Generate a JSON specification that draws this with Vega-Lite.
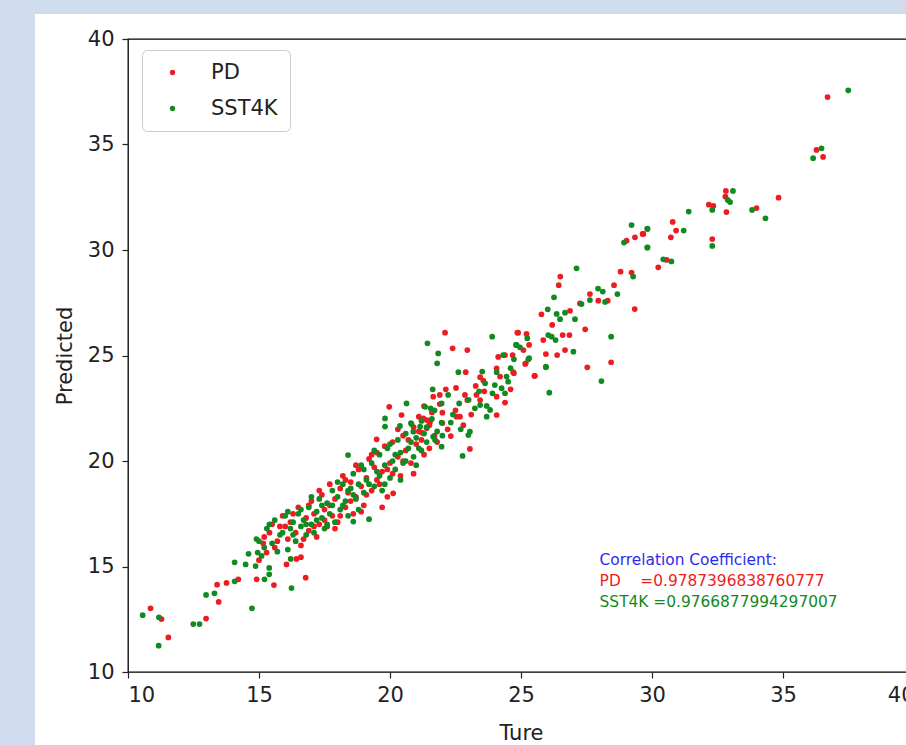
{
  "$schema": "https://vega.github.io/schema/vega-lite/v6.json",
  "width": 786,
  "height": 633,
  "autosize": {"type": "none"},
  "padding": {"left": 128, "top": 39, "right": 0, "bottom": 73},
  "background": "white",
  "config": {
    "view": {"stroke": "black", "strokeWidth": 1.3},
    "font": "DejaVu Sans",
    "axis": {
      "grid": false, "domain": false, "tickColor": "#222", "tickSize": 6, "tickWidth": 1.2,
      "labelFont": "DejaVu Sans", "labelFontSize": 21, "labelColor": "#222",
      "titleFont": "DejaVu Sans", "titleFontSize": 21, "titleFontWeight": "normal", "titleColor": "#222",
      "zindex": 1
    },
    "legend": {
      "orient": "none", "legendX": 14, "legendY": 11, "padding": 12,
      "strokeColor": "#cccccc", "fillColor": "white", "cornerRadius": 5,
      "labelFont": "DejaVu Sans", "labelFontSize": 21, "labelColor": "#222",
      "symbolSize": 28, "symbolType": "circle", "symbolStrokeWidth": 0,
      "rowPadding": 14, "labelOffset": 28, "symbolOffset": 8
    }
  },
  "datasets": {
    "pts": [
      {"s":"PD","t":10.86,"p":13.02},{"s":"PD","t":11.28,"p":12.51},{"s":"PD","t":11.54,"p":11.64},{"s":"PD","t":12.98,"p":12.53},{"s":"PD","t":13.46,"p":13.32},{"s":"PD","t":13.40,"p":14.14},{"s":"PD","t":13.76,"p":14.22},{"s":"PD","t":14.21,"p":14.39},{"s":"PD","t":14.91,"p":14.39},{"s":"PD","t":15.57,"p":14.12},{"s":"PD","t":16.78,"p":14.47},{"s":"PD","t":16.05,"p":15.10},{"s":"PD","t":16.43,"p":15.36},{"s":"PD","t":16.60,"p":15.44},{"s":"PD","t":15.16,"p":16.10},{"s":"PD","t":15.29,"p":15.66},
      {"s":"PD","t":15.4,"p":16.6},{"s":"PD","t":15.6,"p":15.9},{"s":"PD","t":15.8,"p":16.9},{"s":"PD","t":15.9,"p":17.4},{"s":"PD","t":16.1,"p":16.3},{"s":"PD","t":16.2,"p":17.1},{"s":"PD","t":16.4,"p":16.6},{"s":"PD","t":16.5,"p":17.8},{"s":"PD","t":16.6,"p":16.0},{"s":"PD","t":16.8,"p":17.3},{"s":"PD","t":16.9,"p":16.7},{"s":"PD","t":17.0,"p":18.1},{"s":"PD","t":17.1,"p":17.5},{"s":"PD","t":17.2,"p":16.4},{"s":"PD","t":17.3,"p":17.0},{"s":"PD","t":17.4,"p":18.4},{"s":"PD","t":17.5,"p":17.7},{"s":"PD","t":17.6,"p":16.9},{"s":"PD","t":17.7,"p":18.9},{"s":"PD","t":17.8,"p":17.4},{"s":"PD","t":17.9,"p":18.2},{"s":"PD","t":18.0,"p":17.1},{"s":"PD","t":18.1,"p":18.7},{"s":"PD","t":18.2,"p":19.3},{"s":"PD","t":18.3,"p":17.8},{"s":"PD","t":18.4,"p":18.5},{"s":"PD","t":18.5,"p":19.0},{"s":"PD","t":18.6,"p":17.5},{"s":"PD","t":18.7,"p":18.3},{"s":"PD","t":18.8,"p":19.6},{"s":"PD","t":18.9,"p":18.8},{"s":"PD","t":19.0,"p":17.9},{"s":"PD","t":19.1,"p":19.2},{"s":"PD","t":19.2,"p":20.1},{"s":"PD","t":19.3,"p":18.6},{"s":"PD","t":19.4,"p":19.7},{"s":"PD","t":19.5,"p":20.4},{"s":"PD","t":19.6,"p":18.9},{"s":"PD","t":19.7,"p":19.5},{"s":"PD","t":19.8,"p":20.7},{"s":"PD","t":19.9,"p":18.3},{"s":"PD","t":20.0,"p":19.9},{"s":"PD","t":20.1,"p":20.9},{"s":"PD","t":20.12,"p":18.47},{"s":"PD","t":20.3,"p":20.2},{"s":"PD","t":20.4,"p":19.3},{"s":"PD","t":20.5,"p":21.2},{"s":"PD","t":20.6,"p":20.5},{"s":"PD","t":20.8,"p":19.9},{"s":"PD","t":20.9,"p":21.6},{"s":"PD","t":21.0,"p":20.8},{"s":"PD","t":21.1,"p":22.1},{"s":"PD","t":21.2,"p":21.0},{"s":"PD","t":21.3,"p":20.3},{"s":"PD","t":21.5,"p":21.7},{"s":"PD","t":21.6,"p":22.3},{"s":"PD","t":21.8,"p":20.9},{"s":"PD","t":22.0,"p":21.8},
      {"s":"PD","t":15.0,"p":15.3},{"s":"PD","t":15.2,"p":16.4},{"s":"PD","t":15.5,"p":17.0},{"s":"PD","t":15.7,"p":16.2},{"s":"PD","t":16.0,"p":16.9},{"s":"PD","t":16.3,"p":17.5},{"s":"PD","t":16.7,"p":16.3},{"s":"PD","t":16.9,"p":17.9},{"s":"PD","t":17.1,"p":16.9},{"s":"PD","t":17.3,"p":18.6},{"s":"PD","t":17.5,"p":17.2},{"s":"PD","t":17.7,"p":17.9},{"s":"PD","t":17.9,"p":16.8},{"s":"PD","t":18.1,"p":17.4},{"s":"PD","t":18.3,"p":19.1},{"s":"PD","t":18.5,"p":18.1},{"s":"PD","t":18.7,"p":19.8},{"s":"PD","t":18.9,"p":17.6},{"s":"PD","t":19.1,"p":18.4},{"s":"PD","t":19.3,"p":20.3},{"s":"PD","t":19.5,"p":19.1},{"s":"PD","t":19.7,"p":17.8},{"s":"PD","t":19.9,"p":19.6},{"s":"PD","t":20.1,"p":19.4},{"s":"PD","t":20.3,"p":21.5},{"s":"PD","t":20.5,"p":20.0},{"s":"PD","t":20.7,"p":21.0},{"s":"PD","t":20.9,"p":19.4},{"s":"PD","t":21.1,"p":21.4},{"s":"PD","t":21.3,"p":22.6},{"s":"PD","t":21.5,"p":20.6},{"s":"PD","t":21.7,"p":21.2},{"s":"PD","t":21.9,"p":22.7},{"s":"PD","t":22.2,"p":21.5},{"s":"PD","t":22.5,"p":22.4},{"s":"PD","t":22.8,"p":21.7},{"s":"PD","t":23.1,"p":22.2},{"s":"PD","t":23.6,"p":23.3},{"s":"PD","t":24.2,"p":24.0},{"s":"PD","t":24.6,"p":23.4},
      {"s":"PD","t":22.10,"p":26.08},{"s":"PD","t":22.39,"p":25.34},{"s":"PD","t":22.95,"p":25.26},{"s":"PD","t":24.86,"p":26.08},{"s":"PD","t":24.13,"p":24.93},{"s":"PD","t":24.39,"p":25.02},{"s":"PD","t":25.18,"p":24.63},{"s":"PD","t":25.51,"p":24.03},{"s":"PD","t":22.89,"p":24.21},{"s":"PD","t":23.44,"p":23.97},{"s":"PD","t":24.07,"p":24.39},{"s":"PD","t":24.70,"p":24.21},{"s":"PD","t":23.27,"p":23.56},{"s":"PD","t":23.56,"p":23.81},{"s":"PD","t":21.65,"p":23.05},{"s":"PD","t":21.90,"p":23.13},{"s":"PD","t":22.13,"p":23.40},{"s":"PD","t":22.52,"p":23.46},{"s":"PD","t":22.86,"p":23.13},{"s":"PD","t":22.95,"p":22.89},{"s":"PD","t":23.30,"p":23.13},{"s":"PD","t":23.44,"p":22.89},{"s":"PD","t":24.07,"p":23.05},{"s":"PD","t":24.39,"p":22.77},{"s":"PD","t":24.07,"p":22.18},{"s":"PD","t":19.97,"p":22.57},{"s":"PD","t":20.44,"p":22.18},{"s":"PD","t":21.27,"p":22.02},{"s":"PD","t":21.40,"p":21.94},{"s":"PD","t":21.53,"p":21.86},{"s":"PD","t":22.0,"p":22.29},{"s":"PD","t":22.54,"p":22.10},{"s":"PD","t":22.67,"p":22.10},{"s":"PD","t":22.32,"p":21.18},{"s":"PD","t":23.05,"p":20.57},{"s":"PD","t":21.40,"p":21.55},{"s":"PD","t":21.21,"p":21.35},{"s":"PD","t":19.49,"p":21.03},
      {"s":"PD","t":29.35,"p":30.60},{"s":"PD","t":29.03,"p":30.44},{"s":"PD","t":29.67,"p":30.76},{"s":"PD","t":28.80,"p":28.97},{"s":"PD","t":29.22,"p":28.93},{"s":"PD","t":29.34,"p":27.20},{"s":"PD","t":26.50,"p":28.74},{"s":"PD","t":26.44,"p":28.33},{"s":"PD","t":28.55,"p":28.33},{"s":"PD","t":27.63,"p":27.91},{"s":"PD","t":27.95,"p":27.60},{"s":"PD","t":28.31,"p":27.60},{"s":"PD","t":27.25,"p":27.47},{"s":"PD","t":26.87,"p":27.12},{"s":"PD","t":25.78,"p":26.95},{"s":"PD","t":26.19,"p":26.45},{"s":"PD","t":27.45,"p":26.24},{"s":"PD","t":26.85,"p":25.97},{"s":"PD","t":25.85,"p":25.73},{"s":"PD","t":26.59,"p":25.97},{"s":"PD","t":26.68,"p":25.26},{"s":"PD","t":26.38,"p":25.02},{"s":"PD","t":25.95,"p":25.07},{"s":"PD","t":27.53,"p":24.44},{"s":"PD","t":28.44,"p":24.68},{"s":"PD","t":25.53,"p":24.04},{"s":"PD","t":24.89,"p":26.08},{"s":"PD","t":25.21,"p":26.02},{"s":"PD","t":25.31,"p":25.50},{"s":"PD","t":25.09,"p":25.26},{"s":"PD","t":25.16,"p":24.60},{"s":"PD","t":24.68,"p":25.02},{"s":"PD","t":24.73,"p":24.16},
      {"s":"PD","t":36.70,"p":37.25},{"s":"PD","t":36.28,"p":34.74},{"s":"PD","t":36.53,"p":34.41},{"s":"PD","t":34.83,"p":32.48},{"s":"PD","t":33.99,"p":31.99},{"s":"PD","t":32.82,"p":32.80},{"s":"PD","t":32.80,"p":32.53},{"s":"PD","t":32.84,"p":31.80},{"s":"PD","t":32.17,"p":32.15},{"s":"PD","t":32.34,"p":32.09},{"s":"PD","t":32.30,"p":30.52},{"s":"PD","t":30.79,"p":31.33},{"s":"PD","t":30.92,"p":30.92},{"s":"PD","t":30.72,"p":30.60},{"s":"PD","t":29.64,"p":30.76},{"s":"PD","t":30.56,"p":29.53},{"s":"PD","t":30.24,"p":29.18},
      {"s":"SST4K","t":10.56,"p":12.69},{"s":"SST4K","t":11.18,"p":12.59},{"s":"SST4K","t":11.17,"p":11.25},{"s":"SST4K","t":12.49,"p":12.27},{"s":"SST4K","t":12.73,"p":12.27},{"s":"SST4K","t":12.98,"p":13.65},{"s":"SST4K","t":13.30,"p":13.73},{"s":"SST4K","t":14.07,"p":14.30},{"s":"SST4K","t":14.07,"p":15.20},{"s":"SST4K","t":14.49,"p":15.10},{"s":"SST4K","t":14.73,"p":13.02},{"s":"SST4K","t":14.87,"p":15.02},{"s":"SST4K","t":15.21,"p":14.39},{"s":"SST4K","t":15.39,"p":14.93},{"s":"SST4K","t":15.39,"p":14.63},{"s":"SST4K","t":16.24,"p":13.98},{"s":"SST4K","t":16.21,"p":15.36},{"s":"SST4K","t":14.95,"p":15.66},
      {"s":"SST4K","t":15.0,"p":16.2},{"s":"SST4K","t":15.1,"p":15.5},{"s":"SST4K","t":15.3,"p":16.8},{"s":"SST4K","t":15.5,"p":16.1},{"s":"SST4K","t":15.6,"p":17.2},{"s":"SST4K","t":15.7,"p":15.7},{"s":"SST4K","t":15.8,"p":16.5},{"s":"SST4K","t":16.0,"p":17.4},{"s":"SST4K","t":16.1,"p":15.8},{"s":"SST4K","t":16.2,"p":16.8},{"s":"SST4K","t":16.3,"p":17.1},{"s":"SST4K","t":16.4,"p":16.2},{"s":"SST4K","t":16.5,"p":17.5},{"s":"SST4K","t":16.6,"p":16.9},{"s":"SST4K","t":16.7,"p":17.2},{"s":"SST4K","t":16.8,"p":16.5},{"s":"SST4K","t":16.9,"p":17.8},{"s":"SST4K","t":17.0,"p":17.0},{"s":"SST4K","t":17.1,"p":16.6},{"s":"SST4K","t":17.2,"p":17.6},{"s":"SST4K","t":17.3,"p":18.2},{"s":"SST4K","t":17.4,"p":17.3},{"s":"SST4K","t":17.5,"p":16.8},{"s":"SST4K","t":17.6,"p":18.0},{"s":"SST4K","t":17.7,"p":17.5},{"s":"SST4K","t":17.8,"p":18.6},{"s":"SST4K","t":17.9,"p":17.1},{"s":"SST4K","t":18.0,"p":18.3},{"s":"SST4K","t":18.1,"p":17.7},{"s":"SST4K","t":18.2,"p":18.9},{"s":"SST4K","t":18.3,"p":18.1},{"s":"SST4K","t":18.4,"p":17.4},{"s":"SST4K","t":18.5,"p":18.7},{"s":"SST4K","t":18.6,"p":19.4},{"s":"SST4K","t":18.60,"p":17.13},{"s":"SST4K","t":18.7,"p":18.2},{"s":"SST4K","t":18.8,"p":18.9},{"s":"SST4K","t":18.9,"p":19.8},{"s":"SST4K","t":19.0,"p":18.5},{"s":"SST4K","t":19.1,"p":19.1},{"s":"SST4K","t":19.20,"p":17.24},{"s":"SST4K","t":19.3,"p":19.9},{"s":"SST4K","t":19.4,"p":18.8},{"s":"SST4K","t":19.5,"p":19.5},{"s":"SST4K","t":19.6,"p":20.3},{"s":"SST4K","t":19.7,"p":18.6},{"s":"SST4K","t":19.8,"p":19.8},{"s":"SST4K","t":19.9,"p":20.6},{"s":"SST4K","t":20.0,"p":19.2},{"s":"SST4K","t":20.1,"p":20.0},{"s":"SST4K","t":20.2,"p":19.6},{"s":"SST4K","t":20.3,"p":21.0},{"s":"SST4K","t":20.4,"p":20.4},{"s":"SST4K","t":20.5,"p":19.9},{"s":"SST4K","t":20.6,"p":21.3},{"s":"SST4K","t":20.7,"p":20.6},{"s":"SST4K","t":20.8,"p":21.8},{"s":"SST4K","t":20.9,"p":20.2},{"s":"SST4K","t":21.0,"p":21.1},{"s":"SST4K","t":21.1,"p":20.6},{"s":"SST4K","t":21.2,"p":21.9},{"s":"SST4K","t":21.3,"p":21.3},{"s":"SST4K","t":21.4,"p":20.9},{"s":"SST4K","t":21.6,"p":22.0},{"s":"SST4K","t":21.8,"p":21.4},{"s":"SST4K","t":18.40,"p":20.28},
      {"s":"SST4K","t":14.6,"p":15.6},{"s":"SST4K","t":14.9,"p":16.3},{"s":"SST4K","t":15.2,"p":15.9},{"s":"SST4K","t":15.4,"p":17.0},{"s":"SST4K","t":15.9,"p":16.6},{"s":"SST4K","t":16.1,"p":17.6},{"s":"SST4K","t":16.3,"p":16.5},{"s":"SST4K","t":16.6,"p":17.7},{"s":"SST4K","t":16.8,"p":17.0},{"s":"SST4K","t":17.0,"p":18.3},{"s":"SST4K","t":17.2,"p":17.2},{"s":"SST4K","t":17.4,"p":17.9},{"s":"SST4K","t":17.6,"p":17.0},{"s":"SST4K","t":17.8,"p":17.9},{"s":"SST4K","t":18.0,"p":19.0},{"s":"SST4K","t":18.2,"p":17.9},{"s":"SST4K","t":18.4,"p":18.6},{"s":"SST4K","t":18.6,"p":18.4},{"s":"SST4K","t":18.8,"p":17.7},{"s":"SST4K","t":19.0,"p":19.6},{"s":"SST4K","t":19.2,"p":18.9},{"s":"SST4K","t":19.4,"p":20.5},{"s":"SST4K","t":19.6,"p":19.3},{"s":"SST4K","t":19.8,"p":18.9},{"s":"SST4K","t":20.0,"p":20.8},{"s":"SST4K","t":20.2,"p":20.3},{"s":"SST4K","t":20.4,"p":19.1},{"s":"SST4K","t":20.6,"p":20.0},{"s":"SST4K","t":20.8,"p":20.9},{"s":"SST4K","t":21.0,"p":19.8},{"s":"SST4K","t":21.2,"p":20.5},{"s":"SST4K","t":21.4,"p":21.6},{"s":"SST4K","t":21.7,"p":22.4},{"s":"SST4K","t":22.0,"p":21.2},{"s":"SST4K","t":22.4,"p":22.2},{"s":"SST4K","t":22.7,"p":21.5},{"s":"SST4K","t":23.0,"p":22.9},{"s":"SST4K","t":23.4,"p":23.3},{"s":"SST4K","t":24.0,"p":23.6},{"s":"SST4K","t":24.6,"p":24.4},
      {"s":"SST4K","t":21.43,"p":25.58},{"s":"SST4K","t":21.84,"p":25.10},{"s":"SST4K","t":21.80,"p":24.63},{"s":"SST4K","t":23.90,"p":25.89},{"s":"SST4K","t":24.81,"p":25.50},{"s":"SST4K","t":25.28,"p":24.82},{"s":"SST4K","t":25.95,"p":24.47},{"s":"SST4K","t":22.61,"p":24.21},{"s":"SST4K","t":23.52,"p":24.24},{"s":"SST4K","t":24.07,"p":24.21},{"s":"SST4K","t":24.45,"p":24.0},{"s":"SST4K","t":24.51,"p":23.76},{"s":"SST4K","t":23.63,"p":23.68},{"s":"SST4K","t":21.63,"p":23.40},{"s":"SST4K","t":22.22,"p":23.13},{"s":"SST4K","t":21.97,"p":22.73},{"s":"SST4K","t":22.64,"p":22.73},{"s":"SST4K","t":23.24,"p":22.50},{"s":"SST4K","t":23.44,"p":22.65},{"s":"SST4K","t":23.69,"p":22.61},{"s":"SST4K","t":23.82,"p":22.42},{"s":"SST4K","t":23.91,"p":23.21},{"s":"SST4K","t":24.26,"p":23.45},{"s":"SST4K","t":24.39,"p":23.21},{"s":"SST4K","t":23.69,"p":22.10},{"s":"SST4K","t":20.63,"p":22.73},{"s":"SST4K","t":19.81,"p":22.02},{"s":"SST4K","t":19.81,"p":21.63},{"s":"SST4K","t":20.38,"p":21.66},{"s":"SST4K","t":20.82,"p":21.75},{"s":"SST4K","t":20.89,"p":21.39},{"s":"SST4K","t":21.34,"p":22.57},{"s":"SST4K","t":21.55,"p":22.50},{"s":"SST4K","t":21.97,"p":21.82},{"s":"SST4K","t":22.32,"p":21.82},{"s":"SST4K","t":23.05,"p":21.39},{"s":"SST4K","t":22.99,"p":21.23},{"s":"SST4K","t":22.77,"p":20.24},{"s":"SST4K","t":21.65,"p":21.15},{"s":"SST4K","t":21.72,"p":20.99},{"s":"SST4K","t":21.97,"p":20.68},{"s":"SST4K","t":21.15,"p":21.63},
      {"s":"SST4K","t":29.22,"p":31.18},{"s":"SST4K","t":29.83,"p":31.01},{"s":"SST4K","t":28.93,"p":30.35},{"s":"SST4K","t":29.83,"p":30.13},{"s":"SST4K","t":29.28,"p":28.74},{"s":"SST4K","t":27.12,"p":29.13},{"s":"SST4K","t":26.26,"p":27.76},{"s":"SST4K","t":27.94,"p":28.17},{"s":"SST4K","t":28.12,"p":28.03},{"s":"SST4K","t":28.68,"p":27.91},{"s":"SST4K","t":28.21,"p":27.54},{"s":"SST4K","t":27.31,"p":27.44},{"s":"SST4K","t":27.63,"p":27.63},{"s":"SST4K","t":26.68,"p":27.03},{"s":"SST4K","t":26.02,"p":27.19},{"s":"SST4K","t":26.36,"p":26.97},{"s":"SST4K","t":26.49,"p":26.72},{"s":"SST4K","t":27.06,"p":26.72},{"s":"SST4K","t":28.44,"p":25.89},{"s":"SST4K","t":26.04,"p":25.97},{"s":"SST4K","t":26.17,"p":25.89},{"s":"SST4K","t":26.32,"p":25.73},{"s":"SST4K","t":27.0,"p":25.18},{"s":"SST4K","t":25.95,"p":24.44},{"s":"SST4K","t":28.07,"p":23.79},{"s":"SST4K","t":26.08,"p":23.24},{"s":"SST4K","t":25.24,"p":25.82},{"s":"SST4K","t":24.83,"p":25.50},{"s":"SST4K","t":24.96,"p":25.39},{"s":"SST4K","t":25.31,"p":24.87},{"s":"SST4K","t":24.32,"p":25.02},{"s":"SST4K","t":24.73,"p":24.82},
      {"s":"SST4K","t":37.49,"p":37.57},{"s":"SST4K","t":36.47,"p":34.82},{"s":"SST4K","t":36.15,"p":34.35},{"s":"SST4K","t":34.33,"p":31.50},{"s":"SST4K","t":33.82,"p":31.90},{"s":"SST4K","t":33.09,"p":32.80},{"s":"SST4K","t":32.89,"p":32.37},{"s":"SST4K","t":32.98,"p":32.27},{"s":"SST4K","t":32.30,"p":31.90},{"s":"SST4K","t":32.30,"p":30.19},{"s":"SST4K","t":31.40,"p":31.82},{"s":"SST4K","t":31.21,"p":30.92},{"s":"SST4K","t":29.82,"p":31.0},{"s":"SST4K","t":29.82,"p":30.11},{"s":"SST4K","t":30.43,"p":29.56},{"s":"SST4K","t":30.74,"p":29.46}
    ]
  },
  "layer": [
    {
      "data": {"values": [{}]},
      "mark": {"type": "rect", "color": "#cfdcee", "clip": false},
      "encoding": {
        "x": {"datum": 5.0, "type": "quantitative", "scale": {"domain": [10, 40], "nice": false, "zero": false}},
        "x2": {"datum": 6.45},
        "y": {"datum": 42.0, "type": "quantitative", "scale": {"domain": [10, 40], "nice": false, "zero": false}},
        "y2": {"datum": 6.3}
      }
    },
    {
      "data": {"values": [{}]},
      "mark": {"type": "rect", "color": "#cfdcee", "clip": false},
      "encoding": {
        "x": {"datum": 5.0, "type": "quantitative"},
        "x2": {"datum": 41.0},
        "y": {"datum": 42.0, "type": "quantitative"},
        "y2": {"datum": 41.18}
      }
    },
    {
      "data": {"name": "pts"},
      "mark": {"type": "point", "filled": true, "size": 33, "opacity": 1},
      "encoding": {
        "x": {"field": "t", "type": "quantitative", "title": "Ture",
              "scale": {"domain": [10, 40], "nice": false, "zero": false},
              "axis": {"values": [10, 15, 20, 25, 30, 35, 40], "labelPadding": 6, "titlePadding": 17}},
        "y": {"field": "p", "type": "quantitative", "title": "Predicted",
              "scale": {"domain": [10, 40], "nice": false, "zero": false},
              "axis": {"values": [10, 15, 20, 25, 30, 35, 40], "labelPadding": 8, "titlePadding": 12}},
        "color": {"field": "s", "type": "nominal", "title": null,
                  "scale": {"domain": ["PD", "SST4K"], "range": ["#ee1c22", "#118a22"]}}
      }
    },
    {
      "data": {"values": [{}]},
      "mark": {"type": "text", "text": "Correlation Coefficient:", "color": "#2b2bf0", "font": "DejaVu Sans", "fontSize": 15.4, "align": "left", "baseline": "alphabetic"},
      "encoding": {"x": {"datum": 28.0, "type": "quantitative"}, "y": {"datum": 15.07, "type": "quantitative"}}
    },
    {
      "data": {"values": [{}]},
      "mark": {"type": "text", "text": "PD\u00a0\u00a0\u00a0\u00a0=0.9787396838760777", "color": "#ee1c22", "font": "DejaVu Sans", "fontSize": 15.4, "align": "left", "baseline": "alphabetic"},
      "encoding": {"x": {"datum": 28.0, "type": "quantitative"}, "y": {"datum": 14.08, "type": "quantitative"}}
    },
    {
      "data": {"values": [{}]},
      "mark": {"type": "text", "text": "SST4K =0.9766877994297007", "color": "#118a22", "font": "DejaVu Sans", "fontSize": 15.4, "align": "left", "baseline": "alphabetic"},
      "encoding": {"x": {"datum": 28.0, "type": "quantitative"}, "y": {"datum": 13.08, "type": "quantitative"}}
    }
  ]
}
